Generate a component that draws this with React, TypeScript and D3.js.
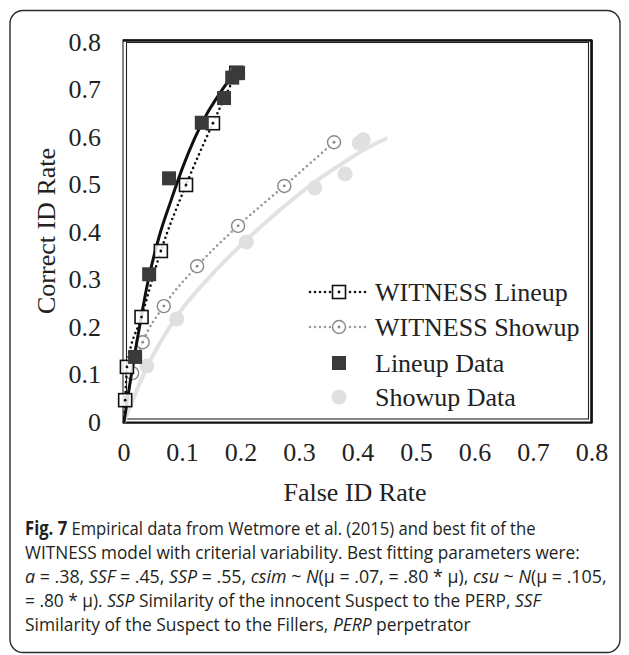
import React, { useLayoutEffect, useRef, useState } from "react";
import * as d3 from "d3";

// ---------- data ----------
const xTicks = [0, 0.1, 0.2, 0.3, 0.4, 0.5, 0.6, 0.7, 0.8];
const yTicks = [0, 0.1, 0.2, 0.3, 0.4, 0.5, 0.6, 0.7, 0.8];
const xTickLabels = ["0", "0.1", "0.2", "0.3", "0.4", "0.5", "0.6", "0.7", "0.8"];
const yTickLabels = ["0", "0.1", "0.2", "0.3", "0.4", "0.5", "0.6", "0.7", "0.8"];

// solid black fit (lineup)
const lineupFitX = [0, 0.01, 0.02, 0.03, 0.04, 0.06, 0.08, 0.1, 0.12, 0.14, 0.16, 0.18, 0.19];
const lineupFitY = [0, 0.08, 0.155, 0.225, 0.29, 0.39, 0.465, 0.535, 0.595, 0.645, 0.685, 0.72, 0.735];

// WITNESS Lineup (dotted, open squares)
const witnessLineupX = [0, 0.002, 0.005, 0.03, 0.063, 0.106, 0.152, 0.192];
const witnessLineupY = [0, 0.046, 0.116, 0.221, 0.36, 0.499, 0.629, 0.735];

// Lineup Data (filled squares)
const lineupDataX = [0.019, 0.043, 0.077, 0.133, 0.171, 0.185, 0.195];
const lineupDataY = [0.137, 0.311, 0.513, 0.63, 0.682, 0.725, 0.735];

// WITNESS Showup (dotted gray, open circles)
const witnessShowupX = [0, 0.014, 0.032, 0.068, 0.125, 0.195, 0.274, 0.359];
const witnessShowupY = [0, 0.103, 0.168, 0.244, 0.328, 0.413, 0.497, 0.589];

// Showup Data (light gray dots)
const showupDataX = [0.039, 0.09, 0.209, 0.326, 0.378, 0.402, 0.409];
const showupDataY = [0.118, 0.217, 0.379, 0.493, 0.522, 0.587, 0.594];

// light gray fit (showup)
const showupFitX = [0, 0.039, 0.09, 0.15, 0.209, 0.27, 0.326, 0.378, 0.41, 0.45];
const showupFitY = [0, 0.115, 0.222, 0.31, 0.383, 0.45, 0.505, 0.548, 0.573, 0.598];

const legendLabels = ["WITNESS Lineup", "WITNESS Showup", "Lineup Data", "Showup Data"];

const SERIF = "'Liberation Serif', 'Times New Roman', Times, serif";
const SANS = "'Open Sans', 'Noto Sans', sans-serif";

const zip = (xs: number[], ys: number[]) => xs.map((x, i) => [x, ys[i]] as [number, number]);

export default function App() {
  const x = d3.scaleLinear().domain([0, 0.8]).range([124, 592]);
  const y = d3.scaleLinear().domain([0, 0.8]).range([422, 42]);
  const line = d3
    .line<[number, number]>()
    .x((d) => x(d[0]))
    .y((d) => y(d[1]))
    .curve(d3.curveMonotoneX);

  const lineupFit = zip(lineupFitX, lineupFitY);
  const witLineup = zip(witnessLineupX, witnessLineupY);
  const lineupData = zip(lineupDataX, lineupDataY);
  const witShowup = zip(witnessShowupX, witnessShowupY);
  const showupData = zip(showupDataX, showupDataY);
  const showupFit = zip(showupFitX, showupFitY);

  const dotted = { strokeDasharray: "0 5", strokeLinecap: "round" as const, strokeWidth: 2.6, fill: "none" };

  const SQ = 13;
  const LSQ = 14;

  const legendY = [292, 327, 363, 397];
  const lx0 = 310, lx1 = 369, lm = 339, lt = 375;

  const capY = [535, 559, 583, 607, 631];
  const capLen = [511, 555, 582, 516, 446];

  const refs = useRef<(SVGTextElement | null)[]>([]);
  const [scales, setScales] = useState<number[]>([1, 1, 1, 1, 1]);
  useLayoutEffect(() => {
    const s = capLen.map((L, i) => {
      const el = refs.current[i];
      if (!el) return 1;
      const w = el.getComputedTextLength();
      return w > 0 ? L / w : 1;
    });
    setScales(s);
  }, []);

  const fs = 26;

  return (
    <svg
      width={629}
      height={655}
      style={{ position: "absolute", left: 0, top: 0, background: "#fff" }}
    >
      <rect x={0} y={0} width={629} height={655} fill="#fff" />
      {/* outer rounded box */}
      <rect x={10} y={10.5} width={610} height={642} rx={13} ry={13} fill="none" stroke="#2b2b2b" strokeWidth={1.4} />

      {/* plot frame (double border) */}
      <rect x={123} y={40} width={469} height={383} fill="none" stroke="#222" strokeWidth={1.1} />
      <rect x={126.5} y={42.5} width={462} height={376.5} fill="none" stroke="#222" strokeWidth={1.1} />
      <line x1={123} y1={40.5} x2={592} y2={40.5} stroke="#111" strokeWidth={2.6} />
      <line x1={591.5} y1={40} x2={591.5} y2={423} stroke="#111" strokeWidth={2.6} />
      <line x1={123} y1={422.5} x2={592} y2={422.5} stroke="#111" strokeWidth={1.8} />

      {/* x ticks */}
      {xTicks.map((t, i) => (
        <text key={"xt" + i} x={x(t)} y={461} textAnchor="middle" fontFamily={SERIF} fontSize={fs} fill="#222">
          {xTickLabels[i]}
        </text>
      ))}
      {/* y ticks */}
      {yTicks.map((t, i) => (
        <text key={"yt" + i} x={101} y={y(t)} textAnchor="end" dominantBaseline="central" fontFamily={SERIF} fontSize={fs} fill="#222">
          {yTickLabels[i]}
        </text>
      ))}

      {/* axis titles */}
      <text x={355} y={501} textAnchor="middle" fontFamily={SERIF} fontSize={fs} fill="#222">
        False ID Rate
      </text>
      <text
        x={0}
        y={0}
        transform={`translate(46,231) rotate(-90)`}
        textAnchor="middle"
        dominantBaseline="central"
        fontFamily={SERIF}
        fontSize={fs}
        fill="#222"
      >
        Correct ID Rate
      </text>

      {/* showup fit (light gray) */}
      <path d={line(showupFit) || ""} fill="none" stroke="#e2e2e2" strokeWidth={4} />
      {/* showup data */}
      {showupData.map((d, i) => (
        <circle key={"sd" + i} cx={x(d[0])} cy={y(d[1])} r={7.5} fill="#e0e0e0" />
      ))}
      {/* WITNESS showup */}
      <path d={line(witShowup) || ""} stroke="#999" {...dotted} />
      {witShowup
        .filter((d) => d[0] > 0 || d[1] > 0)
        .map((d, i) => (
          <g key={"ws" + i}>
            <circle cx={x(d[0])} cy={y(d[1])} r={6.5} fill="#fff" fillOpacity={0.85} stroke="#888" strokeWidth={1.4} />
            <circle cx={x(d[0])} cy={y(d[1])} r={1.4} fill="#888" />
          </g>
        ))}

      {/* lineup fit (solid black) */}
      <path d={line(lineupFit) || ""} fill="none" stroke="#111" strokeWidth={3} />
      {/* WITNESS lineup */}
      <path d={line(witLineup) || ""} stroke="#111" {...dotted} />
      {witLineup
        .filter((d) => d[0] > 0 || d[1] > 0)
        .map((d, i) => (
          <g key={"wl" + i}>
            <rect
              x={x(d[0]) - SQ / 2}
              y={y(d[1]) - SQ / 2}
              width={SQ}
              height={SQ}
              fill="#fff"
              fillOpacity={0.85}
              stroke="#111"
              strokeWidth={1.6}
            />
            <circle cx={x(d[0])} cy={y(d[1])} r={1.4} fill="#111" />
          </g>
        ))}
      {/* lineup data */}
      {lineupData.map((d, i) => (
        <rect
          key={"ld" + i}
          x={x(d[0]) - LSQ / 2}
          y={y(d[1]) - LSQ / 2}
          width={LSQ}
          height={LSQ}
          fill="#3a3a3a"
        />
      ))}

      {/* legend */}
      <g>
        <line x1={lx0} y1={legendY[0]} x2={lx1} y2={legendY[0]} stroke="#111" {...dotted} />
        <rect x={lm - SQ / 2} y={legendY[0] - SQ / 2} width={SQ} height={SQ} fill="#fff" stroke="#111" strokeWidth={1.6} />
        <circle cx={lm} cy={legendY[0]} r={1.4} fill="#111" />

        <line x1={lx0} y1={legendY[1]} x2={lx1} y2={legendY[1]} stroke="#999" {...dotted} />
        <circle cx={lm} cy={legendY[1]} r={6.5} fill="#fff" stroke="#888" strokeWidth={1.4} />
        <circle cx={lm} cy={legendY[1]} r={1.4} fill="#888" />

        <rect x={lm - LSQ / 2} y={legendY[2] - LSQ / 2} width={LSQ} height={LSQ} fill="#3a3a3a" />
        <circle cx={lm} cy={legendY[3]} r={7.5} fill="#e0e0e0" />

        {legendLabels.map((s, i) => (
          <text key={"lg" + i} x={lt} y={legendY[i]} dominantBaseline="central" fontFamily={SERIF} fontSize={fs} fill="#222">
            {s}
          </text>
        ))}
      </g>

      {/* caption */}
      <g fontFamily={SANS} fontSize={19} fill="#231f20">
        <text ref={(el) => (refs.current[0] = el)} x={0} y={0} transform={`translate(25,${capY[0]}) scale(${scales[0]},1)`}>
          <tspan fontWeight="bold">Fig. 7</tspan> Empirical data from Wetmore et al. (2015) and best fit of the
        </text>
        <text ref={(el) => (refs.current[1] = el)} x={0} y={0} transform={`translate(25,${capY[1]}) scale(${scales[1]},1)`}>
          WITNESS model with criterial variability. Best fitting parameters were:
        </text>
        <text ref={(el) => (refs.current[2] = el)} x={0} y={0} transform={`translate(25,${capY[2]}) scale(${scales[2]},1)`}>
          <tspan fontStyle="italic">a</tspan> = .38, <tspan fontStyle="italic">SSF</tspan> = .45,{" "}
          <tspan fontStyle="italic">SSP</tspan> = .55, <tspan fontStyle="italic">csim</tspan> ~{" "}
          <tspan fontStyle="italic">N</tspan>(μ = .07, = .80 * μ), <tspan fontStyle="italic">csu</tspan> ~{" "}
          <tspan fontStyle="italic">N</tspan>(μ = .105,
        </text>
        <text ref={(el) => (refs.current[3] = el)} x={0} y={0} transform={`translate(25,${capY[3]}) scale(${scales[3]},1)`}>
          = .80 * μ). <tspan fontStyle="italic">SSP</tspan> Similarity of the innocent Suspect to the PERP,{" "}
          <tspan fontStyle="italic">SSF</tspan>
        </text>
        <text ref={(el) => (refs.current[4] = el)} x={0} y={0} transform={`translate(25,${capY[4]}) scale(${scales[4]},1)`}>
          Similarity of the Suspect to the Fillers, <tspan fontStyle="italic">PERP</tspan> perpetrator
        </text>
      </g>
    </svg>
  );
}
